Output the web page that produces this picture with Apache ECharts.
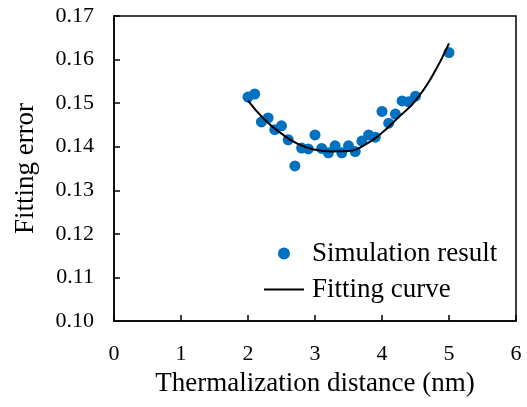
<!DOCTYPE html>
<html>
<head>
<meta charset="utf-8">
<script src="https://cdn.jsdelivr.net/npm/echarts@6/dist/echarts.min.js"></script>
<style>
  html, body { margin: 0; padding: 0; background: #fff; }
  #chart { width: 527px; height: 407px; }
</style>
</head>
<body>
<div id="chart"></div>
<script>
// simulation points
const simX = [2.0, 2.1, 2.2, 2.3, 2.4, 2.5, 2.6, 2.7, 2.8, 2.9, 3.0, 3.1, 3.2, 3.3,
  3.4, 3.5, 3.6, 3.7, 3.8, 3.9, 4.0, 4.1, 4.2, 4.3, 4.4, 4.5, 5.0];
const simY = [0.1514, 0.1521, 0.1457, 0.1466, 0.1439, 0.1448, 0.1416, 0.1356, 0.1397, 0.1395,
  0.1427, 0.1396, 0.1386, 0.1402, 0.1386, 0.1402, 0.1389, 0.1413, 0.1427, 0.1422,
  0.1481, 0.1454, 0.1475, 0.1505, 0.1503, 0.1516, 0.1616];

// fitted curve, sampled along the drawn line
const fitX = [2.0, 2.25, 2.5, 2.75, 3.0, 3.25, 3.5, 3.75, 4.0, 4.25, 4.5, 4.75, 5.0];
const fitY = [0.1506, 0.1462, 0.1430, 0.1406, 0.1393, 0.1389, 0.1390, 0.1405, 0.1432,
  0.1468, 0.1506, 0.1562, 0.1637];

const FONT = '"Liberation Serif", "Times New Roman", serif';
const BLUE = '#0070C0';

const chart = echarts.init(document.getElementById('chart'));

chart.setOption({
  animation: false,
  backgroundColor: '#fff',
  grid: {
    left: 114,
    right: 11,
    top: 16,
    bottom: 86,
    show: true,
    borderColor: '#000',
    borderWidth: 1.5
  },
  legend: {
    orient: 'vertical',
    left: 259,
    top: 235,
    itemWidth: 40,
    itemHeight: 12,
    itemGap: 9,
    textStyle: {
      fontFamily: FONT,
      fontSize: 27,
      color: '#000',
      padding: [0, 0, 0, 3]
    },
    data: [
      { name: 'Simulation result', icon: 'circle' },
      // plain line icon, no marker
      { name: 'Fitting curve', icon: 'path://M0,0 L40,0 L40,2 L0,2 Z', itemStyle: { color: '#000' } }
    ]
  },
  xAxis: {
    type: 'value',
    min: 0,
    max: 6,
    interval: 1,
    name: 'Thermalization distance (nm)',
    nameLocation: 'middle',
    nameGap: 49,
    nameTextStyle: { fontFamily: FONT, fontSize: 27, color: '#000' },
    axisLine: { lineStyle: { color: '#000', width: 1.5 } },
    axisTick: { inside: true, length: 6, lineStyle: { color: '#000', width: 1.5 } },
    axisLabel: { fontFamily: FONT, fontSize: 22, color: '#000', margin: 22 },
    splitLine: { show: false }
  },
  yAxis: {
    type: 'value',
    min: 0.10,
    max: 0.17,
    interval: 0.01,
    name: 'Fitting error',
    nameLocation: 'middle',
    nameGap: 75,
    nameTextStyle: { fontFamily: FONT, fontSize: 27, color: '#000' },
    axisLine: { lineStyle: { color: '#000', width: 1.5 } },
    axisTick: { inside: true, length: 6, lineStyle: { color: '#000', width: 1.5 } },
    axisLabel: {
      fontFamily: FONT, fontSize: 22, color: '#000', margin: 20,
      formatter: v => v.toFixed(2)
    },
    splitLine: { show: false }
  },
  series: [
    {
      name: 'Simulation result',
      type: 'scatter',
      symbol: 'circle',
      symbolSize: 11,
      itemStyle: { color: BLUE, opacity: 1 },
      data: simX.map((x, i) => [x, simY[i]]),
      z: 3
    },
    {
      name: 'Fitting curve',
      type: 'line',
      smooth: true,
      symbol: 'none',
      lineStyle: { color: '#000', width: 2 },
      itemStyle: { color: '#000' },
      data: fitX.map((x, i) => [x, fitY[i]]),
      z: 4
    }
  ]
});
</script>
</body>
</html>
